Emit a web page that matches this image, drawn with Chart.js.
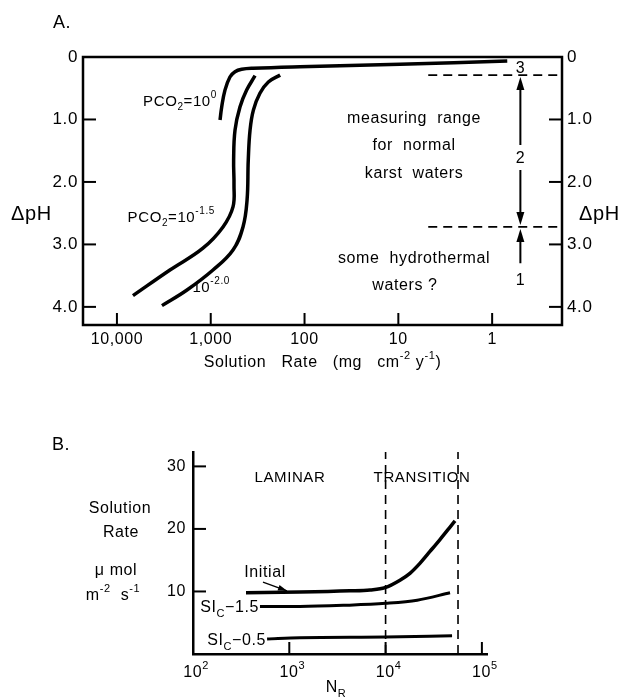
<!DOCTYPE html>
<html>
<head>
<meta charset="utf-8">
<script src="https://cdn.jsdelivr.net/npm/chart.js@4.4.1/dist/chart.umd.min.js"></script>
<style>
  body { margin: 0; background: #fff; }
  canvas { position: absolute; left: 0; }
  #chartA { top: 0; }
  #chartB { top: 380px; }
</style>
</head>
<body>
<canvas id="chartA" width="620" height="380"></canvas>
<canvas id="chartB" width="620" height="317"></canvas>
<script>
const FONT = '"Liberation Sans", Arial, sans-serif';
const TRACK = '0.6px';

// ---- panel A: delta pH against solution rate ----
const rateTicks = [10000, 1000, 100, 10, 1];
const rateTickLabels = ['10,000', '1,000', '100', '10', '1'];
const phTicks = [0, 1, 2, 3, 4];
const phTickLabels = ['0', '1.0', '2.0', '3.0', '4.0'];

const pco2_0_rate = [796, 764, 705, 624, 551, 468, 354, 112, 9.6, 0.69];
const pco2_0_dph = [1.01, 0.80, 0.53, 0.32, 0.235, 0.197, 0.18, 0.155, 0.115, 0.064];
const pco2_15_rate = [6745, 2723, 1211, 740, 579, 565, 570, 551, 488, 414, 337];
const pco2_15_dph = [3.82, 3.41, 3.06, 2.72, 2.40, 2.05, 1.65, 1.17, 0.80, 0.53, 0.30];
const pco2_20_rate = [3311, 1791, 946, 579, 453, 410, 398, 381, 351, 299, 243, 182];
const pco2_20_dph = [3.98, 3.73, 3.41, 3.09, 2.72, 2.29, 1.65, 1.17, 0.85, 0.58, 0.40, 0.29];

const rangeLimits = [0.29, 2.72];   // dashed lines, delta pH
const rangeDashFrom = 4.8;          // rate where the dashes start
const arrowRate = 0.5;

// ---- panel B: solution rate against Reynolds number ----
const nrTicks = [100, 1000, 10000, 100000];
const rateBTicks = [10, 20, 30];
const initialNr = [355, 1290, 4270, 6890, 9860, 14100, 17900, 22700, 28900, 36700, 46700, 52600];
const initialRate = [9.8, 9.9, 10.1, 10.25, 10.6, 11.8, 12.9, 14.5, 16.4, 18.3, 20.3, 21.3];
const si15Nr = [496, 1290, 4000, 10000, 21300, 46700];
const si15Rate = [7.6, 7.6, 7.8, 8.1, 8.6, 9.8];
const si05Nr = [588, 1290, 10000, 49000];
const si05Rate = [2.4, 2.6, 2.7, 2.9];
const regimeBounds = [10000, 56500];

const rateAxisMin = 0.18, rateAxisMax = 23000, phAxisMax = 4.29;
const nrAxisMax = 113000, rateBAxisMax = 32.3;

Chart.defaults.font.family = FONT;
Chart.defaults.font.size = 16;
Chart.defaults.color = '#000';

const curve = (xs, ys) => xs.map((x, i) => ({x: x, y: ys[i]}));

function solid(data, w, mono) {
  return {data: data, borderColor: '#000', borderWidth: w, tension: 0.4, pointRadius: 0, fill: false,
          cubicInterpolationMode: mono ? 'monotone' : 'default'};
}
function dashed(data) {
  return {data: data, borderColor: '#000', borderWidth: 1.6, borderDash: [9, 6], tension: 0, pointRadius: 0, fill: false};
}

// text with sub/superscripts: parts = [[text, 'n'|'sup'|'sub'], ...]
function richText(ctx, parts, x, y, size, align) {
  const small = Math.round(size * 0.68);
  ctx.save();
  ctx.letterSpacing = TRACK;
  ctx.textAlign = 'left';
  ctx.textBaseline = 'alphabetic';
  ctx.fillStyle = '#000';
  let w = 0;
  const items = parts.map(p => {
    const fs = p[1] === 'n' ? size : small;
    ctx.font = fs + 'px ' + FONT;
    const m = ctx.measureText(p[0]).width;
    w += m;
    return {t: p[0], k: p[1], fs: fs, m: m};
  });
  let cx = align === 'right' ? x - w : align === 'center' ? x - w / 2 : x;
  items.forEach(it => {
    ctx.font = it.fs + 'px ' + FONT;
    const dy = it.k === 'sup' ? -size * 0.5 : it.k === 'sub' ? size * 0.3 : 0;
    ctx.fillText(it.t, cx, y + dy);
    cx += it.m;
  });
  ctx.restore();
}

function arrowHead(ctx, x1, y1, x2, y2, len, half) {
  const ang = Math.atan2(y2 - y1, x2 - x1);
  ctx.beginPath();
  ctx.moveTo(x2, y2);
  ctx.lineTo(x2 - len * Math.cos(ang) + half * Math.sin(ang), y2 - len * Math.sin(ang) - half * Math.cos(ang));
  ctx.lineTo(x2 - len * Math.cos(ang) - half * Math.sin(ang), y2 - len * Math.sin(ang) + half * Math.cos(ang));
  ctx.closePath();
  ctx.fill();
}

// wider tracking for the library's own tick labels, like the scanned type
const tracking = {
  id: 'tracking',
  beforeLayout(chart) { chart.ctx.letterSpacing = TRACK; },
  beforeDraw(chart) { chart.ctx.letterSpacing = TRACK; }
};

// tick marks pointing into the plot
const inwardTicks = {
  id: 'inwardTicks',
  afterDraw(chart) {
    const ctx = chart.ctx, a = chart.chartArea;
    ctx.save();
    ctx.strokeStyle = '#000';
    ctx.lineWidth = 2;
    Object.values(chart.scales).forEach(s => {
      s.ticks.forEach(t => {
        const p = s.getPixelForValue(t.value);
        ctx.beginPath();
        if (s.position === 'left') { ctx.moveTo(a.left, p); ctx.lineTo(a.left + 13, p); }
        else if (s.position === 'right') { ctx.moveTo(a.right, p); ctx.lineTo(a.right - 13, p); }
        else { ctx.moveTo(p, a.bottom); ctx.lineTo(p, a.bottom - 12); }
        ctx.stroke();
      });
    });
    ctx.restore();
  }
};

const panelA = {
  id: 'panelA',
  afterDraw(chart) {
    const ctx = chart.ctx, a = chart.chartArea;
    const X = v => chart.scales.x.getPixelForValue(v);
    const Y = v => chart.scales.y.getPixelForValue(v);
    ctx.save();
    ctx.strokeStyle = '#000';
    ctx.fillStyle = '#000';
    ctx.lineWidth = 2.5;
    ctx.strokeRect(a.left, a.top, a.right - a.left, a.bottom - a.top);

    richText(ctx, [['A.', 'n']], 53, 28, 18, 'left');
    richText(ctx, [['ΔpH', 'n']], 11, 220, 20, 'left');
    richText(ctx, [['ΔpH', 'n']], 579, 220, 20, 'left');
    richText(ctx, [['Solution   Rate   (mg   cm', 'n'], ['-2', 'sup'], [' y', 'n'], ['-1', 'sup'], [')', 'n']],
      (a.left + a.right) / 2, 367, 16, 'center');

    richText(ctx, [['PCO', 'n'], ['2', 'sub'], ['=10', 'n'], ['0', 'sup']], X(858), Y(0.78), 15, 'right');
    richText(ctx, [['PCO', 'n'], ['2', 'sub'], ['=10', 'n'], ['-1.5', 'sup']], X(902), Y(2.64), 15, 'right');
    richText(ctx, [['10', 'n'], ['-2.0', 'sup']], X(624), Y(3.76), 15, 'right');

    richText(ctx, [['measuring  range', 'n']], X(6.8), Y(1.06), 16, 'center');
    richText(ctx, [['for  normal', 'n']], X(6.8), Y(1.49), 16, 'center');
    richText(ctx, [['karst  waters', 'n']], X(6.8), Y(1.94), 16, 'center');
    richText(ctx, [['some  hydrothermal', 'n']], X(6.8), Y(3.30), 16, 'center');
    richText(ctx, [['waters ?', 'n']], X(8.5), Y(3.73), 16, 'center');

    const ax = X(arrowRate);
    richText(ctx, [['3', 'n']], ax, Y(0.26), 16, 'center');
    richText(ctx, [['2', 'n']], ax, Y(1.70), 16, 'center');
    richText(ctx, [['1', 'n']], ax, Y(3.65), 16, 'center');

    ctx.lineWidth = 2;
    ctx.beginPath();
    ctx.moveTo(ax, Y(rangeLimits[0]) + 10); ctx.lineTo(ax, Y(1.41));
    ctx.moveTo(ax, Y(1.81)); ctx.lineTo(ax, Y(rangeLimits[1]) - 10);
    ctx.moveTo(ax, Y(3.30)); ctx.lineTo(ax, Y(rangeLimits[1]) + 10);
    ctx.stroke();
    arrowHead(ctx, ax, Y(1.0), ax, Y(rangeLimits[0]) + 2, 13, 4);
    arrowHead(ctx, ax, Y(2.0), ax, Y(rangeLimits[1]) - 2, 13, 4);
    arrowHead(ctx, ax, Y(3.3), ax, Y(rangeLimits[1]) + 2, 13, 4);
    ctx.restore();
  }
};

const axisA = (pos, labels, ticks) => ({
  type: 'linear', position: pos, reverse: true, min: 0, max: phAxisMax,
  grid: {display: false, drawTicks: false}, border: {display: false},
  ticks: {padding: 5, autoSkip: false, font: {size: 17}, callback: (v, i) => labels[i]},
  afterBuildTicks: s => { s.ticks = ticks.map(v => ({value: v})); },
  afterFit: s => { s.width = pos === 'left' ? 83 : 58; }
});

new Chart(document.getElementById('chartA'), {
  type: 'line',
  data: {
    datasets: [
      solid(curve(pco2_0_rate, pco2_0_dph), 3.5),
      solid(curve(pco2_15_rate, pco2_15_dph), 3.5),
      solid(curve(pco2_20_rate, pco2_20_dph), 3.5),
      dashed(curve([rangeDashFrom, rateAxisMin], [rangeLimits[0], rangeLimits[0]])),
      dashed(curve([rangeDashFrom, rateAxisMin], [rangeLimits[1], rangeLimits[1]]))
    ]
  },
  options: {
    responsive: false,
    animation: false,
    layout: {padding: {top: 57, left: 0, right: 0, bottom: 0}},
    plugins: {legend: {display: false}, tooltip: {enabled: false}},
    scales: {
      x: {
        type: 'logarithmic', reverse: true, min: rateAxisMin, max: rateAxisMax,
        grid: {display: false, drawTicks: false}, border: {display: false},
        ticks: {padding: 5, autoSkip: false, maxRotation: 0, callback: (v, i) => rateTickLabels[i]},
        afterBuildTicks: s => { s.ticks = rateTicks.map(v => ({value: v})); },
        afterFit: s => { s.height = 55; }
      },
      y: axisA('left', phTickLabels, phTicks),
      y2: axisA('right', phTickLabels, phTicks)
    }
  },
  plugins: [tracking, inwardTicks, panelA]
});

const panelB = {
  id: 'panelB',
  afterDraw(chart) {
    const ctx = chart.ctx, a = chart.chartArea;
    const X = v => chart.scales.x.getPixelForValue(v);
    const Y = v => chart.scales.y.getPixelForValue(v);
    ctx.save();
    ctx.fillStyle = '#000';
    ctx.strokeStyle = '#000';

    richText(ctx, [['B.', 'n']], 52, 70, 18, 'left');
    nrTicks.forEach(v => {
      richText(ctx, [['10', 'n'], [String(Math.round(Math.log10(v))), 'sup']], X(v) + 3, a.bottom + 23, 16, 'center');
    });
    richText(ctx, [['N', 'n'], ['R', 'sub']], (a.left + a.right) / 2 - 4, a.bottom + 38, 16, 'center');

    const tx = a.left - 73;
    richText(ctx, [['Solution', 'n']], tx, a.top + 61, 16, 'center');
    richText(ctx, [['Rate', 'n']], tx + 1, a.top + 85, 16, 'center');
    richText(ctx, [['μ mol', 'n']], tx - 4, a.top + 123, 16, 'center');
    richText(ctx, [['m', 'n'], ['-2', 'sup'], ['  s', 'n'], ['-1', 'sup']], tx - 7, a.top + 148, 16, 'center');

    richText(ctx, [['LAMINAR', 'n']], X(1016), Y(27.5), 15, 'center');
    richText(ctx, [['TRANSITION', 'n']], X(23900), Y(27.5), 15, 'center');

    richText(ctx, [['Initial', 'n']], X(560), Y(12.3), 16, 'center');
    ctx.lineWidth = 1.3;
    ctx.beginPath();
    ctx.moveTo(X(533), Y(11.5));
    ctx.lineTo(X(946), Y(10.1));
    ctx.stroke();
    arrowHead(ctx, X(533), Y(11.5), X(946), Y(10.1), 9, 3);

    richText(ctx, [['SI', 'n'], ['C', 'sub'], ['\u22121.5', 'n']], X(si15Nr[0]) - 1, Y(si15Rate[0]) + 6, 16, 'right');
    richText(ctx, [['SI', 'n'], ['C', 'sub'], ['\u22120.5', 'n']], X(si05Nr[0]) - 1, Y(si05Rate[0]) + 6, 16, 'right');
    ctx.restore();
  }
};

new Chart(document.getElementById('chartB'), {
  type: 'line',
  data: {
    datasets: [
      solid(curve(initialNr, initialRate), 3.5, true),
      solid(curve(si15Nr, si15Rate), 3, true),
      solid(curve(si05Nr, si05Rate), 3, true),
      dashed(curve([regimeBounds[0], regimeBounds[0]], [0, rateBAxisMax])),
      dashed(curve([regimeBounds[1], regimeBounds[1]], [0, rateBAxisMax]))
    ]
  },
  options: {
    responsive: false,
    animation: false,
    layout: {padding: {top: 72, left: 0, right: 133, bottom: 0}},
    plugins: {legend: {display: false}, tooltip: {enabled: false}},
    scales: {
      x: {
        type: 'logarithmic', min: 100, max: nrAxisMax,
        grid: {display: false, drawTicks: false}, border: {display: true, color: '#000', width: 2.5},
        ticks: {display: false},
        afterBuildTicks: s => { s.ticks = nrTicks.map(v => ({value: v})); },
        afterFit: s => { s.height = 43; }
      },
      y: {
        type: 'linear', min: 0, max: rateBAxisMax,
        grid: {display: false, drawTicks: false}, border: {display: true, color: '#000', width: 2.5},
        ticks: {padding: 7, autoSkip: false},
        afterBuildTicks: s => { s.ticks = rateBTicks.map(v => ({value: v})); },
        afterFit: s => { s.width = 193; }
      }
    }
  },
  plugins: [tracking, inwardTicks, panelB]
});
</script>
</body>
</html>
